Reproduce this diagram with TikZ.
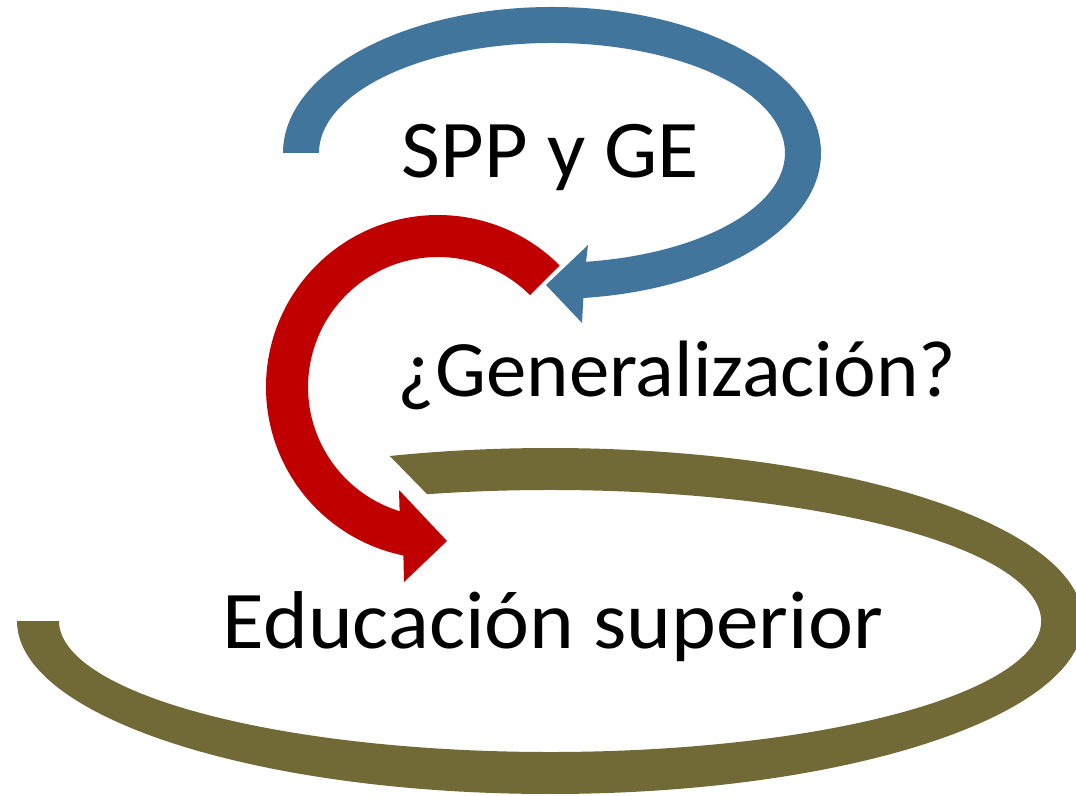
\documentclass[tikz,border=0pt]{standalone}
\usepackage{fontspec}
\setmainfont{Carlito}
\definecolor{bandblue}{RGB}{66,117,156}
\definecolor{bandred}{RGB}{192,0,0}
\definecolor{bandolive}{RGB}{113,106,54}
\tikzset{
  lbl/.style={inner sep=0pt, anchor=base, text=black},
  big/.style={font=\fontsize{82}{98}\selectfont},
  mid/.style={font=\fontsize{80}{96}\selectfont}
}
\begin{document}
\begin{tikzpicture}[x=1pt,y=1pt]
\useasboundingbox (0,0) rectangle (1076,795);
\clip (0,0) rectangle (1076,795);
% olive band (bottom loop)
\coordinate (oc) at (550,174);
\fill[bandolive] (17,174)
  arc[start angle=180,end angle=467.5,x radius=533,y radius=173]
  -- (427.1,300.8)
  arc[start angle=464.5,end angle=180,x radius=491,y radius=131]
  -- cycle;
% red circular arrow
\coordinate (rc) at (438,408);
\fill[bandred] (559.6,529.6)
  arc[start angle=45,end angle=258.4,radius=172]
  -- (404,213) -- (447,254) -- (399,305)
  -- (399.6,283.8)
  arc[start angle=252.8,end angle=45,radius=130]
  -- cycle;
% blue arrow (top loop)
\coordinate (bc) at (552,642);
\fill[bandblue] (283,642)
  arc[start angle=180,end angle=-83.3,x radius=269,y radius=146]
  -- (582,472) -- (546,510) -- (588,550)
  -- (586.0,533.2)
  arc[start angle=-81.6,end angle=180,x radius=233,y radius=110]
  -- cycle;
% texts
\node[lbl,big,xscale=1.03] (spp) at (550.5,617) {SPP y GE};
\node[lbl,mid,xscale=1.01] (gen) at (677,398) {¿Generalización?};
\node[lbl,big,xscale=1.04] (edu) at (553,146) {Educación superior};
\end{tikzpicture}
\end{document}
